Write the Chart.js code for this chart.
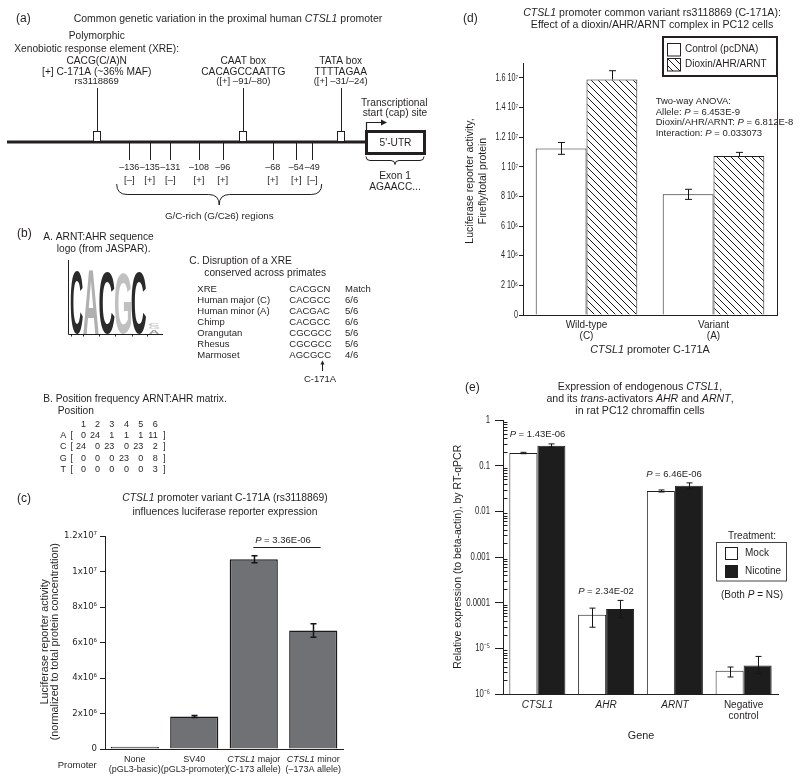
<!DOCTYPE html>
<html><head><meta charset="utf-8">
<script src="https://cdn.jsdelivr.net/npm/chart.js@4.4.1/dist/chart.umd.min.js"></script>
<style>
html,body{margin:0;padding:0;background:#fff;}
body{width:800px;height:782px;position:relative;overflow:hidden}
canvas{position:absolute;display:block}
</style></head><body>
<canvas id="bg" width="800" height="782" style="left:0;top:0"></canvas>
<canvas id="cc" width="420" height="357" style="left:0;top:425px"></canvas>
<canvas id="cd" width="380" height="370" style="left:420px;top:0"></canvas>
<canvas id="ce" width="380" height="402" style="left:420px;top:380px"></canvas>
<script>
// ---------------- Panel (c) data
const promoters=['None','SV40','_CTSL1_ major','_CTSL1_ minor'];
const promoterSub=['(pGL3-basic)','(pGL3-promoter)','(C-173 allele)','(–173A allele)'];
const luciferase=[0.13e6,1.83e6,1.069e7,6.67e6];
const luciferaseSem=[0,0.06e6,0.2e6,0.38e6];
const cTicks=[0,2e6,4e6,6e6,8e6,1e7,1.2e7];
const cTickLabels=['0','2x10⁶','4x10⁶','6x10⁶','8x10⁶','1x10⁷','1.2x10⁷'];

// ---------------- Panel (d) data
const alleles=[['Wild-type','(C)'],['Variant','(A)']];
const controlVals=[1.124e7,8.14e6];
const controlSem=[0.4e6,0.34e6];
const dioxinVals=[1.588e7,1.072e7];
const dioxinSem=[0.6e6,0.25e6];
const dTicks=[0,2e6,4e6,6e6,8e6,1e7,1.2e7,1.4e7,1.6e7];
const dTickLabels=['0','2 10⁶','4 10⁶','6 10⁶','8 10⁶','1 10⁷','1.2 10⁷','1.4 10⁷','1.6 10⁷'];

// ---------------- Panel (e) data
const genes=['CTSL1','AHR','ARNT',['Negative','control']];
const mockVals=[0.189,5.45e-5,0.0279,3.24e-6];
const mockHi=[0.196,7.6e-5,0.0294,3.9e-6];
const mockLo=[0.183,2.9e-5,0.0265,2.36e-6];
const nicotineVals=[0.273,7.26e-5,0.0364,4.23e-6];
const nicotineHi=[0.30,1.12e-4,0.042,6.65e-6];
const nicotineLo=[0.255,4.7e-5,0.031,2.8e-6];
const eTicks=[1e-6,1e-5,1e-4,1e-3,1e-2,1e-1,1];
const eTickLabels=['10⁻⁶','10⁻⁵','0.0001','0.001','0.01','0.1','1'];

// ---------------- Panel (a)/(b) diagram content
const gcPos=['–136','–135','–131','–108','–96','–68','–54','–49'];
const gcStrand=['[–]','[+]','[–]','[+]','[+]','[+]','[+]','[–]'];
const gcX=[129.3,149.7,170.3,199,222.7,272.7,296.3,312.3];
const xreRows=[['XRE','CACGCN','Match'],['Human major (C)','CACGCC','6/6'],['Human minor (A)','CACGAC','5/6'],['Chimp','CACGCC','6/6'],['Orangutan','CGCGCC','5/6'],['Rhesus','CGCGCC','5/6'],['Marmoset','AGCGCC','4/6']];
const matBases=['A','C','G','T'];
const matrix=[[0,24,1,1,1,11],[24,0,23,0,23,2],[0,0,0,23,0,8],[0,0,0,0,0,3]];
const logoLetters=['C','A','C','G','C'];
const logoColors=['#2a2a2a','#b0b0b0','#2a2a2a','#c0c0c0','#2a2a2a'];

const FF='"Liberation Sans", Arial, Helvetica, sans-serif';
const FN='"Liberation Sans Narrow", "DejaVu Sans Condensed", '+FF;
const TXT='#231f20';
Chart.defaults.font.family=FF; Chart.defaults.color=TXT;

function fnt(sz,it,b){return (it?'italic ':'')+(b?'bold ':'')+sz+'px '+FF;}
function rich(ctx,s,x,y,sz,align){
  align=align||'center';
  const parts=s.split('_'); let tot=0; const ws=[];
  parts.forEach((p,i)=>{ctx.font=fnt(sz,i%2===1);const w=ctx.measureText(p).width;ws.push(w);tot+=w;});
  let cx=align==='center'?x-tot/2:(align==='right'?x-tot:x);
  ctx.textAlign='left';ctx.textBaseline='middle';ctx.fillStyle=TXT;
  parts.forEach((p,i)=>{ctx.font=fnt(sz,i%2===1);ctx.fillText(p,cx,y);cx+=ws[i];});
}
function vrich(ctx,s,x,y,sz){ctx.save();ctx.translate(x,y);ctx.rotate(-Math.PI/2);rich(ctx,s,0,0,sz,'center');ctx.restore();}
function makeHatch(ctx){
  const p=document.createElement('canvas');p.width=7;p.height=7;const g=p.getContext('2d');
  g.fillStyle='#fff';g.fillRect(0,0,7,7);g.strokeStyle='#1a1a1a';g.lineWidth=1;
  g.beginPath();g.moveTo(-1,-1);g.lineTo(8,8);g.moveTo(-1,6);g.lineTo(1,8);g.moveTo(6,-1);g.lineTo(8,1);g.stroke();
  return ctx.createPattern(p,'repeat');
}
function brace(ctx,x1,x2,y,h){
  const xm=(x1+x2)/2,r=h/2;
  ctx.beginPath();ctx.moveTo(x1,y);ctx.quadraticCurveTo(x1,y+r,x1+r,y+r);ctx.lineTo(xm-r,y+r);
  ctx.quadraticCurveTo(xm,y+r,xm,y+h);ctx.quadraticCurveTo(xm,y+r,xm+r,y+r);ctx.lineTo(x2-r,y+r);
  ctx.quadraticCurveTo(x2,y+r,x2,y);ctx.stroke();
}
function logoLetter(ctx,ch,x,w,yTop,yBot,color){
  ctx.save();ctx.font='bold 100px '+FF;ctx.textBaseline='alphabetic';ctx.textAlign='left';
  const m=ctx.measureText(ch);
  const asc=m.actualBoundingBoxAscent,desc=m.actualBoundingBoxDescent;
  const lw=m.actualBoundingBoxLeft+m.actualBoundingBoxRight;
  ctx.translate(x,yBot);ctx.scale(w/lw,(yBot-yTop)/(asc+desc));
  ctx.fillStyle=color;
  ctx.fillText(ch,m.actualBoundingBoxLeft,-desc);ctx.restore();
}

// ---------------- background: panels (a), (b) + chart texts
const bg=document.getElementById('bg').getContext('2d');
bg.fillStyle='#fff';bg.fillRect(0,0,800,782);
bg.strokeStyle=TXT;bg.fillStyle=TXT;
// (a)
rich(bg,'(a)',16,19,12,'left');
rich(bg,'Common genetic variation in the proximal human _CTSL1_ promoter',228,19,10.5);
rich(bg,'Polymorphic',96.7,35.7,10.2);
rich(bg,'Xenobiotic response element (XRE):',96.7,49.3,10.2);
rich(bg,'CACG(C/A)N',96.7,61,10.2);
rich(bg,'[+] C-171A (~36% MAF)',96.7,71.7,10.2);
rich(bg,'rs3118869',96.7,81,9.5);
rich(bg,'CAAT box',243.3,61,10.2);
rich(bg,'CACAGCCAATTG',243.3,72,10.2);
rich(bg,'([+] –91/–80)',243.3,81,9.5);
rich(bg,'TATA box',340.7,61,10.2);
rich(bg,'TTTTAGAA',340.7,72,10.2);
rich(bg,'([+] –31/–24)',340.7,81,9.5);
bg.lineWidth=1;
[96.7,243.3,340.7].forEach(x=>{bg.beginPath();bg.moveTo(Math.round(x)+0.5,88);bg.lineTo(Math.round(x)+0.5,131);bg.stroke();});
gcX.forEach((x,i)=>{bg.beginPath();bg.moveTo(Math.round(x)+0.5,142);bg.lineTo(Math.round(x)+0.5,160);bg.stroke();
  rich(bg,gcPos[i],x,167.7,9);rich(bg,gcStrand[i],x,180.7,9.5);});
bg.lineWidth=3;bg.beginPath();bg.moveTo(7,142);bg.lineTo(366,142);bg.stroke();
bg.lineWidth=1;
[96.7,243.3,340.7].forEach(x=>{bg.fillStyle='#fff';bg.fillRect(Math.round(x)-3.5,131.5,7,10);bg.strokeRect(Math.round(x)-3.5,131.5,7,10);});
bg.lineWidth=3;bg.strokeRect(366.5,131.5,58,22);
rich(bg,"5'-UTR",395.5,143,10.2);
bg.lineWidth=1.2;bg.beginPath();bg.moveTo(366.5,131);bg.lineTo(366.5,122.5);bg.lineTo(382,122.5);bg.stroke();
bg.fillStyle=TXT;bg.beginPath();bg.moveTo(387,122.5);bg.lineTo(381,119.5);bg.lineTo(381,125.5);bg.closePath();bg.fill();
rich(bg,'Transcriptional',361,103.3,10.2,'left');
rich(bg,'start (cap) site',362.7,113.3,10.2,'left');
bg.lineWidth=1;brace(bg,366,424,156.5,8);
rich(bg,'Exon 1',395,176,10.2);rich(bg,'AGAACC...',395,187,10.2);
brace(bg,116.7,321.7,184,21);
rich(bg,'G/C-rich (G/C≥6) regions',219.3,216,9.8);
// (b)
rich(bg,'(b)',17,234,12,'left');
rich(bg,'A. ARNT:AHR sequence',43.3,237.3,10.2,'left');
rich(bg,'logo (from JASPAR).',56.7,249.3,10.2,'left');
const lx=[70.7,83.3,99.3,115,131.7,146.7],ltop=[270,268,271.5,273,271];
logoLetters.forEach((ch,i)=>logoLetter(bg,ch,lx[i],lx[i+1]-lx[i]-0.5,ltop[i],333.5,logoColors[i]));
logoLetter(bg,'C',149,10,323,326,'#bbb');logoLetter(bg,'G',149,10,326.5,329.5,'#ccc');logoLetter(bg,'A',149,10,330,333.5,'#999');
bg.strokeStyle=TXT;bg.lineWidth=1;bg.beginPath();bg.moveTo(68.5,260);bg.lineTo(68.5,334.5);bg.lineTo(163,334.5);
lx.forEach(x=>{bg.moveTo(Math.round(x)+0.5,334.5);bg.lineTo(Math.round(x)+0.5,336.5);});bg.stroke();
rich(bg,'C. Disruption of a XRE',189.3,260.7,10.2,'left');
rich(bg,'conserved across primates',204.3,273.3,10.2,'left');
xreRows.forEach((r,i)=>{const y=289.3+i*11;rich(bg,r[0],197.3,y,9.5,'left');rich(bg,r[1],289.3,y,9.5,'left');rich(bg,r[2],345,y,9.5,'left');});
bg.beginPath();bg.moveTo(322.5,371);bg.lineTo(322.5,362);bg.stroke();
bg.beginPath();bg.moveTo(322.5,360.5);bg.lineTo(320.5,364.5);bg.lineTo(324.5,364.5);bg.closePath();bg.fill();
rich(bg,'C-171A',320,379,9.5);
rich(bg,'B. Position frequency ARNT:AHR matrix.',43.3,399,10.2,'left');
rich(bg,'Position',57.7,410.7,10.2,'left');
const mcol=[86,100,114.3,129,143.3,157.7];
mcol.forEach((x,j)=>rich(bg,String(j+1),x,425,9,'right'));
matrix.forEach((row,i)=>{const y=435.7+i*11.2;rich(bg,matBases[i],63.3,y,9);rich(bg,'[',71.7,y,9);
  row.forEach((v,j)=>rich(bg,String(v),mcol[j],y,9,'right'));rich(bg,']',164.3,y,9);});
// (c) texts
rich(bg,'(c)',17,498.3,12,'left');
rich(bg,'_CTSL1_ promoter variant C-171A (rs3118869)',225,498.3,10.3);
rich(bg,'influences luciferase reporter expression',225,512.3,10.3);
vrich(bg,'Luciferase reporter activity',45,641.7,10.7);
vrich(bg,'(normalized to total protein concentration)',55.5,641.7,10.7);
rich(bg,'Promoter',57.7,765,9.5,'left');
rich(bg,'_P_ = 3.36E-06',283,540.7,9.5);
bg.lineWidth=1;bg.beginPath();bg.moveTo(253.3,547.5);bg.lineTo(320.7,547.5);bg.stroke();
// (d) texts
rich(bg,'(d)',463,18.3,12,'left');
rich(bg,'_CTSL1_ promoter common variant rs3118869 (C-171A):',652,13.3,10.6);
rich(bg,'Effect of a dioxin/AHR/ARNT complex in PC12 cells',652,25.3,10.6);
vrich(bg,'Luciferase reporter activity,',470.5,181,10.5);
vrich(bg,'Firefly/total protein',483.5,181,10.5);
rich(bg,'_CTSL1_ promoter C-171A',650,350.3,10.8);
['Two-way ANOVA:','Allele: _P_ = 6.453E-9','Dioxin/AHR/ARNT: _P_ = 6.812E-8','Interaction: _P_ = 0.033073'].forEach((t,i)=>rich(bg,t,655.7,101.7+i*10.5,9.5,'left'));
bg.lineWidth=2;bg.strokeStyle=TXT;bg.strokeRect(663,37,114,39);
bg.lineWidth=1;bg.fillStyle='#fff';bg.fillRect(667.5,43.5,13,12.5);bg.strokeRect(667.5,43.5,13,12.5);
bg.fillStyle=makeHatch(bg);bg.fillRect(667.5,58.5,13,12.5);bg.strokeRect(667.5,58.5,13,12.5);
rich(bg,'Control (pcDNA)',685,49.5,10,'left');
rich(bg,'Dioxin/AHR/ARNT',685,64.5,10,'left');
// (e) texts
rich(bg,'(e)',465,387.3,12,'left');
rich(bg,'Expression of endogenous _CTSL1_,',640,387.3,10.6);
rich(bg,'and its _trans_-activators _AHR_ and _ARNT_,',640,399.3,10.6);
rich(bg,'in rat PC12 chromaffin cells',640,411,10.6);
vrich(bg,'Relative expression (to beta-actin), by RT-qPCR',458.3,556.7,10.5);
rich(bg,'_P_ = 1.43E-06',537.5,434.3,9.5);
rich(bg,'_P_ = 2.34E-02',606,591.7,9.5);
rich(bg,'_P_ = 6.46E-06',674,474.3,9.5);
rich(bg,'Gene',641,735.7,10.8);
rich(bg,'Treatment:',752,536,10);
bg.lineWidth=1;bg.strokeStyle='#444';bg.strokeRect(716.5,542.5,70,38.5);bg.strokeStyle=TXT;
bg.fillStyle='#fff';bg.fillRect(725.5,547.5,12,12);bg.strokeRect(725.5,547.5,12,12);
bg.fillStyle='#1d1d1d';bg.fillRect(725,565,13,13);
rich(bg,'Mock',745,553.5,10,'left');
rich(bg,'Nicotine',745,571.7,10,'left');
rich(bg,'(Both _P_ = NS)',752,595.7,10);

// ---------------- plugins
const errPlugin={id:'err',afterDatasetsDraw(chart){
  const ctx=chart.ctx,ys=chart.scales.y;
  chart.data.datasets.forEach((ds,di)=>{
    const meta=chart.getDatasetMeta(di);
    meta.data.forEach((el,i)=>{
      let hi,lo;
      if(ds.sem){if(!ds.sem[i])return;hi=ds.data[i]+ds.sem[i];lo=ds.data[i]-ds.sem[i];}
      else if(ds.errHi){hi=ds.errHi[i];lo=ds.errLo[i];} else return;
      if(ds.upperOnly)lo=ds.data[i];
      const x=Math.round(el.x)+0.5,yh=ys.getPixelForValue(hi),yl=ys.getPixelForValue(lo),cw=ds.capW||3;
      ctx.save();ctx.strokeStyle='#151515';ctx.lineWidth=ds.errW||1;ctx.beginPath();
      ctx.moveTo(x,yh);ctx.lineTo(x,yl);ctx.moveTo(x-cw,yh);ctx.lineTo(x+cw,yh);
      if(!ds.upperOnly){ctx.moveTo(x-cw,yl);ctx.lineTo(x+cw,yl);}
      ctx.stroke();ctx.restore();
    });
  });
}};
// condensed y tick labels placed with the chart's own y scale
function yTickLabels(ticks,labels,size,sx,gap){return {id:'ytl',afterDraw(chart){
  const s=chart.scales.y,ctx=chart.ctx,xr=chart.chartArea.left-gap;
  ctx.save();ctx.fillStyle=TXT;ctx.font=size+'px '+FF;ctx.textAlign='right';ctx.textBaseline='middle';
  ticks.forEach((v,i)=>{const y=s.getPixelForValue(v);ctx.save();ctx.translate(xr,y);ctx.scale(sx,1);ctx.fillText(labels[i],0,0);ctx.restore();});
  ctx.restore();}};}
const cLabels={id:'clab',afterDraw(chart){
  const ctx=chart.ctx,s=chart.scales.x,b=chart.chartArea.bottom;
  promoters.forEach((p,i)=>{const x=s.getPixelForValue(i);rich(ctx,p,x,b+10.5,9);rich(ctx,promoterSub[i],x,b+20.5,9);});
}};
const frameD={id:'frameD',afterDraw(chart){
  const ctx=chart.ctx,a=chart.chartArea;ctx.save();ctx.strokeStyle=TXT;ctx.lineWidth=1;
  ctx.beginPath();ctx.moveTo(Math.round(a.right)+0.5,76);ctx.lineTo(Math.round(a.right)+0.5,a.bottom);ctx.stroke();ctx.restore();
}};
const minorE={id:'minorE',afterDraw(chart){
  const ctx=chart.ctx,y=chart.scales.y,x0=chart.chartArea.left;ctx.save();ctx.strokeStyle=TXT;ctx.lineWidth=1;ctx.beginPath();
  for(let e=-6;e<0;e++)for(let k=2;k<10;k++){const py=Math.round(y.getPixelForValue(k*Math.pow(10,e)))+0.5;ctx.moveTo(x0,py);ctx.lineTo(x0+4.5,py);}
  ctx.stroke();ctx.restore();
}};
const basePlug={legend:{display:false},tooltip:{enabled:false},title:{display:false}};

// ---------------- Chart (c)
new Chart(document.getElementById('cc'),{type:'bar',
  data:{labels:promoters,datasets:[{data:luciferase,sem:luciferaseSem,backgroundColor:'#707175',borderColor:'#1a1a1a',borderWidth:1.5,categoryPercentage:0.81,barPercentage:1,capW:3,errW:1.5}]},
  options:{responsive:false,animation:false,devicePixelRatio:1,layout:{padding:{top:111,right:77,left:0,bottom:0}},plugins:basePlug,
    scales:{
      x:{z:1,afterFit:s=>{s.height=33;},ticks:{display:false},grid:{display:false,tickLength:0},border:{color:TXT,width:1}},
      y:{min:0,max:1.2e7,afterBuildTicks:s=>{s.ticks=cTicks.map(v=>({value:v}));},afterFit:s=>{s.width=105;},
        ticks:{callback:v=>cTickLabels[cTicks.indexOf(v)],font:{size:9.5,family:FN},padding:3,color:TXT},
        grid:{drawOnChartArea:false,tickLength:5,color:TXT},border:{color:TXT}}
    }},
  plugins:[errPlugin,cLabels]});

// ---------------- Chart (d)
const cdEl=document.getElementById('cd');
const hatchD=makeHatch(cdEl.getContext('2d'));
new Chart(cdEl,{type:'bar',
  data:{labels:alleles,datasets:[
    {label:'Control (pcDNA)',data:controlVals,sem:controlSem,backgroundColor:'#fff',borderColor:TXT,borderWidth:1,categoryPercentage:0.8,barPercentage:1,capW:3.5},
    {label:'Dioxin/AHR/ARNT',data:dioxinVals,sem:dioxinSem,upperOnly:true,backgroundColor:hatchD,borderColor:TXT,borderWidth:1,categoryPercentage:0.8,barPercentage:1,capW:3.5}]},
  options:{responsive:false,animation:false,devicePixelRatio:1,layout:{padding:{top:63,right:23,left:0,bottom:0}},plugins:basePlug,
    scales:{
      x:{z:1,afterFit:s=>{s.height=55;},ticks:{font:{size:10,lineHeight:1.1},padding:5,color:TXT},grid:{display:false,tickLength:0,drawTicks:false},border:{color:TXT}},
      y:{min:0,max:1.7e7,afterBuildTicks:s=>{s.ticks=dTicks.map(v=>({value:v}));},afterFit:s=>{s.width=103;},
        ticks:{display:false},
        grid:{drawOnChartArea:false,tickLength:4,color:TXT},border:{color:TXT}}
    }},
  plugins:[errPlugin,frameD,yTickLabels(dTicks,dTickLabels,10,0.72,5)]});

// ---------------- Chart (e)
new Chart(document.getElementById('ce'),{type:'bar',
  data:{labels:genes,datasets:[
    {label:'Mock',data:mockVals,errHi:mockHi,errLo:mockLo,backgroundColor:'#fff',borderColor:TXT,borderWidth:1,categoryPercentage:0.815,barPercentage:1,capW:3},
    {label:'Nicotine',data:nicotineVals,errHi:nicotineHi,errLo:nicotineLo,backgroundColor:'#1d1d1d',borderColor:'#1d1d1d',borderWidth:1,categoryPercentage:0.815,barPercentage:1,capW:3}]},
  options:{responsive:false,animation:false,devicePixelRatio:1,layout:{padding:{top:40,right:22,left:0,bottom:0}},plugins:basePlug,
    scales:{
      x:{z:1,afterFit:s=>{s.height=88;},ticks:{font:c=>({size:10,style:c.index<3?'italic':'normal',lineHeight:1.1}),padding:6,color:TXT},grid:{display:false,tickLength:0,drawTicks:false},border:{color:TXT}},
      y:{type:'logarithmic',min:1e-6,max:1,afterBuildTicks:s=>{s.ticks=eTicks.map(v=>({value:v}));},afterFit:s=>{s.width=83;},
        ticks:{display:false},
        grid:{drawOnChartArea:false,tickLength:8,color:TXT},border:{color:TXT}}
    }},
  plugins:[errPlugin,minorE,yTickLabels(eTicks,eTickLabels,10.5,0.74,13)]});
</script>
</body></html>
